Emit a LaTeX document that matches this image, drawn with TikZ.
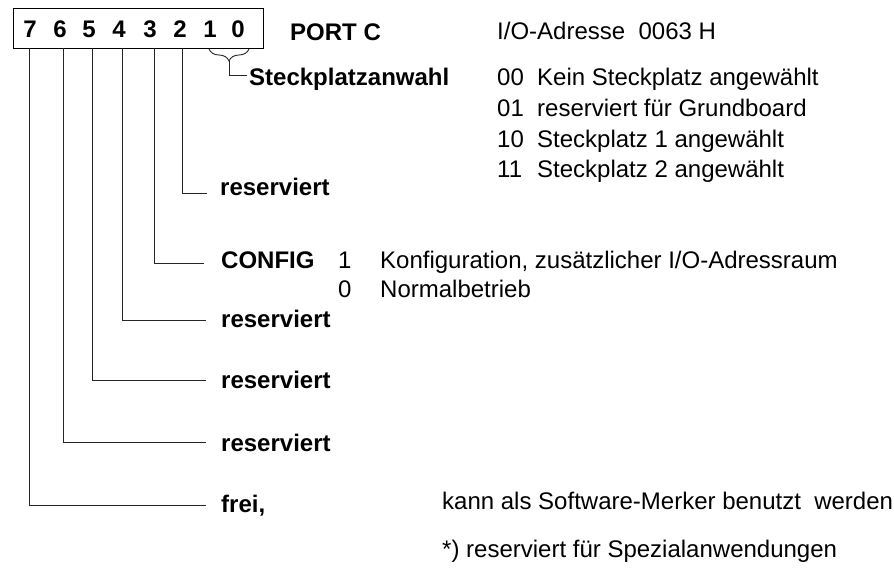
\documentclass[tikz,border=0pt]{standalone}
\usepackage{fontspec}
\setmainfont{Liberation Sans}
\usetikzlibrary{decorations.pathreplacing}
\begin{document}
\begin{tikzpicture}[x=1pt,y=-1pt,
  txt/.style={font=\fontsize{24}{28}\selectfont, inner sep=0pt, anchor=base west},
  bld/.style={txt, font=\fontsize{24}{28}\selectfont\bfseries},
  bitnum/.style={bld, anchor=base},
  wire/.style={line width=0.9pt, black!85},
  frame/.style={draw, line width=1pt, inner sep=0pt, anchor=north west}]
\useasboundingbox (0,0) rectangle (894,574);

% register box with bit numbers
\node[frame, minimum width=250.3pt, minimum height=39.4pt] (reg) at (12.7,8.3) {};
\node[bitnum] (d7) at (30,37) {7};
\node[bitnum] (d6) at (60,37) {6};
\node[bitnum] (d5) at (89,37) {5};
\node[bitnum] (d4) at (119,37) {4};
\node[bitnum] (d3) at (150,37) {3};
\node[bitnum] (d2) at (180,37) {2};
\node[bitnum] (d1) at (210,37) {1};
\node[bitnum] (d0) at (238,37) {0};

\node[bld] (port) at (290,40) {PORT C};
\node[txt] (addr) at (497,39) {I/O-Adresse\ \ 0063 H};

% bits 1..0: slot select
\draw[wire, decorate, decoration={brace, mirror, amplitude=12pt}] (209,49) -- (249,49);
\coordinate (btip) at (229,61);
\coordinate (bend) at (247,75);
\draw[wire] (btip) |- (bend);
\node[bld] (slot) at (249,85) {Steckplatzanwahl};
\node[txt] (c00) at (497,85) {00};
\node[txt] (s00) at (537,85) {Kein Steckplatz angewählt};
\node[txt] (c01) at (497,116) {01};
\node[txt] (s01) at (537,116) {reserviert für Grundboard};
\node[txt] (c10) at (497,147) {10};
\node[txt] (s10) at (537,147) {Steckplatz 1 angewählt};
\node[txt] (c11) at (497,177) {11};
\node[txt] (s11) at (537,177) {Steckplatz 2 angewählt};

% leader lines of bits 7..2
\coordinate (t7) at (29,47.7);
\coordinate (t6) at (63,47.7);
\coordinate (t5) at (92,47.7);
\coordinate (t4) at (122,47.7);
\coordinate (t3) at (154,47.7);
\coordinate (t2) at (182,47.7);
\coordinate (e2) at (207,193);
\coordinate (e3) at (204,263);
\coordinate (e4) at (206,320);
\coordinate (e5) at (206,380);
\coordinate (e6) at (206,442);
\coordinate (e7) at (206,505);
\draw[wire] (t2) |- (e2);
\draw[wire] (t3) |- (e3);
\draw[wire] (t4) |- (e4);
\draw[wire] (t5) |- (e5);
\draw[wire] (t6) |- (e6);
\draw[wire] (t7) |- (e7);

% bit descriptions
\node[bld] (l2) at (220,195) {reserviert};
\node[bld] (l3) at (221,268) {CONFIG};
\node[txt] (c3a) at (338,268) {1};
\node[txt] (s3a) at (380,268) {Konfiguration, zusätzlicher I/O-Adressraum};
\node[txt] (c3b) at (338,297) {0};
\node[txt] (s3b) at (380,297) {Normalbetrieb};
\node[bld] (l4) at (221,327) {reserviert};
\node[bld] (l5) at (221,388) {reserviert};
\node[bld] (l6) at (221,451) {reserviert};
\node[bld] (l7) at (221,512) {frei,};
\node[txt] (free) at (442,509) {kann als Software-Merker benutzt\ \ werden};
\node[txt] (note) at (442,557) {*) reserviert für Spezialanwendungen};
\end{tikzpicture}
\end{document}
